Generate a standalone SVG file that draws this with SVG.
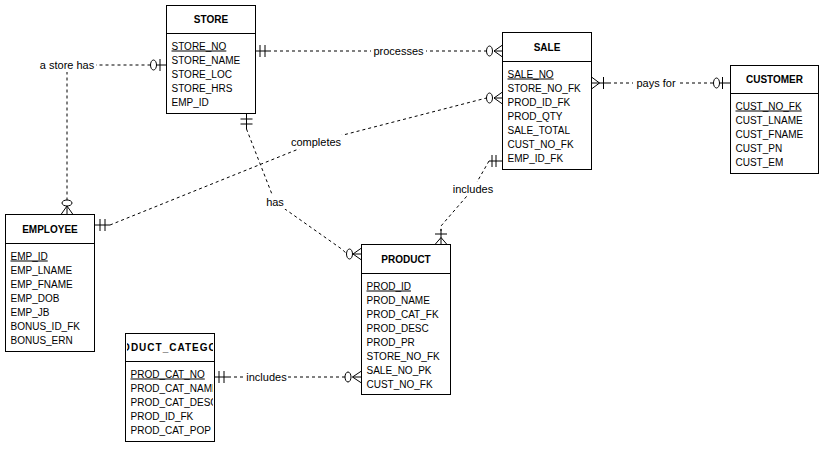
<svg xmlns="http://www.w3.org/2000/svg" width="825" height="449" viewBox="0 0 825 449">
  <style>
    .box { fill: #fff; stroke: #000; stroke-width: 1; }
    .sep { stroke: #000; stroke-width: 1; }
    .title { font-family: "Liberation Sans", Arial, sans-serif; font-size: 10px; font-weight: bold; text-anchor: middle; fill: #000; }
    .attr { font-family: "Liberation Sans", Arial, sans-serif; font-size: 10px; fill: #000; }
    .pk { text-decoration: underline; }
    .rel { fill: none; stroke: #000; stroke-width: 1; stroke-dasharray: 3 3; }
    .end { fill: none; stroke: #000; stroke-width: 1; }
    .ring { fill: #fff; stroke: #000; stroke-width: 1; }
    .lbl { font-family: "Liberation Sans", Arial, sans-serif; font-size: 11px; text-anchor: middle; fill: #000; }
    .lblbg { fill: #fff; }
  </style>
  <defs>
    <clipPath id="clip-category">
      <rect x="127" y="334" width="86" height="107"/>
    </clipPath>
  </defs>
  <rect width="825" height="449" fill="#fff"/>

  <!-- relationships -->
  <g id="connectors">
    <!-- STORE -> SALE : processes -->
    <g id="rel-processes">
      <path class="rel" d="M268,51 H486"/>
      <path class="end" d="M255.5,51 H268 M260,45 V57 M265,45 V57"/>
      <path class="end" d="M494,51 L502.5,45 M494,51 L502.5,57 M494,51 H502.5"/>
      <ellipse class="ring" cx="489.5" cy="51" rx="3" ry="5"/>
      <rect class="lblbg" x="371" y="44" width="55" height="14"/>
      <text class="lbl" x="398.5" y="55">processes</text>
    </g>
    <!-- STORE -> EMPLOYEE : a store has -->
    <g id="rel-store-has">
      <path class="rel" d="M150.5,65 H67 V200"/>
      <path class="end" d="M166.5,65 H156.5 M160,59 V71"/>
      <ellipse class="ring" cx="153.5" cy="65" rx="3" ry="5"/>
      <path class="end" d="M67,206 L61,214.5 M67,206 L73,214.5 M67,206 V214.5"/>
      <ellipse class="ring" cx="67" cy="203" rx="5" ry="3"/>
      <rect class="lblbg" x="38" y="58" width="58" height="14"/>
      <text class="lbl" x="67" y="69">a store has</text>
    </g>
    <!-- EMPLOYEE -> SALE : completes -->
    <g id="rel-completes">
      <path class="rel" d="M110,225 L316,142 L486.5,98"/>
      <path class="end" d="M94.5,225 H110 M100,219 V231 M105,219 V231"/>
      <path class="end" d="M494,98 L502.5,92 M494,98 L502.5,104 M494,98 H502.5"/>
      <ellipse class="ring" cx="489.5" cy="98" rx="3" ry="5"/>
      <rect class="lblbg" x="290" y="135" width="52" height="14"/>
      <text class="lbl" x="316" y="146">completes</text>
    </g>
    <!-- STORE -> PRODUCT : has -->
    <g id="rel-has">
      <path class="rel" d="M246.5,129 L275,202 L343,250 L346.5,254"/>
      <path class="end" d="M246.5,113.5 V129 M240.5,119 H252.5 M240.5,124 H252.5"/>
      <path class="end" d="M353,254 L361.5,248 M353,254 L361.5,260 M353,254 H361.5"/>
      <ellipse class="ring" cx="349.5" cy="254" rx="3" ry="5"/>
      <rect class="lblbg" x="264" y="195" width="22" height="14"/>
      <text class="lbl" x="275" y="206">has</text>
    </g>
    <!-- SALE -> PRODUCT : includes -->
    <g id="rel-sale-includes">
      <path class="rel" d="M489,161 L473,189 L441,226 V231"/>
      <path class="end" d="M502.5,161 H489 M492,155 V167 M496,155 V167"/>
      <path class="end" d="M441,229 V244.5 M435,234 H447 M441,237.5 L435,244.5 M441,237.5 L447,244.5"/>
      <rect class="lblbg" x="452" y="182" width="42" height="14"/>
      <text class="lbl" x="473" y="193">includes</text>
    </g>
    <!-- SALE -> CUSTOMER : pays for -->
    <g id="rel-pays-for">
      <path class="rel" d="M608,83 H713.5"/>
      <path class="end" d="M599.5,83 L591.5,77 M599.5,83 L591.5,89 M591.5,83 H608 M603.5,77 V89"/>
      <path class="end" d="M719.5,83 H730.5 M722.5,77 V89"/>
      <ellipse class="ring" cx="716.5" cy="83" rx="3" ry="5"/>
      <rect class="lblbg" x="633" y="76" width="46" height="14"/>
      <text class="lbl" x="656" y="87">pays for</text>
    </g>
    <!-- PRODUCT_CATEGORY -> PRODUCT : includes -->
    <g id="rel-category-includes">
      <path class="rel" d="M228,377 H345"/>
      <path class="end" d="M214.5,377 H228 M219,371 V383 M224,371 V383"/>
      <path class="end" d="M352.5,377 L361.5,371 M352.5,377 L361.5,383 M352.5,377 H361.5"/>
      <ellipse class="ring" cx="348" cy="377" rx="3" ry="5"/>
      <rect class="lblbg" x="245" y="370" width="43" height="14"/>
      <text class="lbl" x="266.5" y="381">includes</text>
    </g>
  </g>

  <!-- entities -->
  <g id="store">
    <rect class="box" x="166.5" y="5.5" width="89" height="108"/>
    <line class="sep" x1="166.5" y1="33.5" x2="255.5" y2="33.5"/>
    <text class="title" x="211" y="23">STORE</text>
    <text class="attr pk" x="171.5" y="49.5">STORE_NO</text>
    <text class="attr" x="171.5" y="63.5">STORE_NAME</text>
    <text class="attr" x="171.5" y="77.5">STORE_LOC</text>
    <text class="attr" x="171.5" y="91.5">STORE_HRS</text>
    <text class="attr" x="171.5" y="105.5">EMP_ID</text>
  </g>

  <g id="sale">
    <rect class="box" x="502.5" y="32.5" width="89" height="137"/>
    <line class="sep" x1="502.5" y1="61.5" x2="591.5" y2="61.5"/>
    <text class="title" x="547" y="50.5">SALE</text>
    <text class="attr pk" x="507.5" y="77.5">SALE_NO</text>
    <text class="attr" x="507.5" y="91.5">STORE_NO_FK</text>
    <text class="attr" x="507.5" y="105.5">PROD_ID_FK</text>
    <text class="attr" x="507.5" y="119.5">PROD_QTY</text>
    <text class="attr" x="507.5" y="133.5">SALE_TOTAL</text>
    <text class="attr" x="507.5" y="147.5">CUST_NO_FK</text>
    <text class="attr" x="507.5" y="161.5">EMP_ID_FK</text>
  </g>

  <g id="customer">
    <rect class="box" x="730.5" y="65.5" width="88" height="108"/>
    <line class="sep" x1="730.5" y1="93.5" x2="818.5" y2="93.5"/>
    <text class="title" x="774.5" y="83">CUSTOMER</text>
    <text class="attr pk" x="735.5" y="109.5">CUST_NO_FK</text>
    <text class="attr" x="735.5" y="123.5">CUST_LNAME</text>
    <text class="attr" x="735.5" y="137.5">CUST_FNAME</text>
    <text class="attr" x="735.5" y="151.5">CUST_PN</text>
    <text class="attr" x="735.5" y="165.5">CUST_EM</text>
  </g>

  <g id="employee">
    <rect class="box" x="5.5" y="214.5" width="89" height="137"/>
    <line class="sep" x1="5.5" y1="243.5" x2="94.5" y2="243.5"/>
    <text class="title" x="50" y="232.5">EMPLOYEE</text>
    <text class="attr pk" x="10.5" y="259.5">EMP_ID</text>
    <text class="attr" x="10.5" y="273.5">EMP_LNAME</text>
    <text class="attr" x="10.5" y="287.5">EMP_FNAME</text>
    <text class="attr" x="10.5" y="301.5">EMP_DOB</text>
    <text class="attr" x="10.5" y="315.5">EMP_JB</text>
    <text class="attr" x="10.5" y="329.5">BONUS_ID_FK</text>
    <text class="attr" x="10.5" y="343.5">BONUS_ERN</text>
  </g>

  <g id="product">
    <rect class="box" x="361.5" y="244.5" width="89" height="150"/>
    <line class="sep" x1="361.5" y1="273.5" x2="450.5" y2="273.5"/>
    <text class="title" x="406" y="262.5">PRODUCT</text>
    <text class="attr pk" x="366.5" y="289.5">PROD_ID</text>
    <text class="attr" x="366.5" y="303.5">PROD_NAME</text>
    <text class="attr" x="366.5" y="317.5">PROD_CAT_FK</text>
    <text class="attr" x="366.5" y="331.5">PROD_DESC</text>
    <text class="attr" x="366.5" y="345.5">PROD_PR</text>
    <text class="attr" x="366.5" y="359.5">STORE_NO_FK</text>
    <text class="attr" x="366.5" y="373.5">SALE_NO_PK</text>
    <text class="attr" x="366.5" y="387.5">CUST_NO_FK</text>
  </g>

  <g id="product-category">
    <rect class="box" x="125.5" y="333.5" width="89" height="108"/>
    <line class="sep" x1="125.5" y1="361.5" x2="214.5" y2="361.5"/>
    <g clip-path="url(#clip-category)">
      <text class="title" x="169.5" y="351" font-size="11" letter-spacing="1">PRODUCT_CATEGORY</text>
      <text class="attr pk" x="130.5" y="377.5">PROD_CAT_NO</text>
      <text class="attr" x="130.5" y="391.5">PROD_CAT_NAME</text>
      <text class="attr" x="130.5" y="405.5">PROD_CAT_DESC</text>
      <text class="attr" x="130.5" y="419.5">PROD_ID_FK</text>
      <text class="attr" x="130.5" y="433.5">PROD_CAT_POP</text>
    </g>
  </g>
</svg>
